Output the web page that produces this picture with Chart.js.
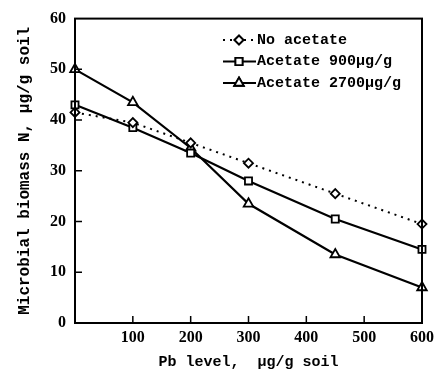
<!DOCTYPE html>
<html>
<head>
<meta charset="utf-8">
<script src="https://cdn.jsdelivr.net/npm/chart.js@4"></script>
<style>
  html, body { margin: 0; padding: 0; background: #fff; }
  #wrap { width: 444px; height: 376px; }
</style>
</head>
<body>
<div id="wrap"><canvas id="biomassChart" width="444" height="376"></canvas></div>
<script>
// values
const pbLevels = [0, 100, 200, 300, 450, 600];
const noAcetate = [41.5, 39.5, 35.5, 31.5, 25.5, 19.5];
const acetate900 = [43, 38.5, 33.5, 28, 20.5, 14.5];
const acetate2700 = [50, 43.5, 34.5, 23.5, 13.5, 7];
const seriesNames = ['No acetate', 'Acetate 900\u03bcg/g', 'Acetate 2700\u03bcg/g'];
const xTicks = [100, 200, 300, 400, 500, 600];
const yTicks = [0, 10, 20, 30, 40, 50, 60];

const toPoints = vals => pbLevels.map((x, i) => ({ x: x, y: vals[i] }));

// frame, inward tick marks and the line+marker legend
const framePlugin = {
    id: 'frame',
    afterDatasetsDraw(chart) {
        const ctx = chart.ctx;
        const a = chart.chartArea;
        const xs = chart.scales.x, ys = chart.scales.y;
        ctx.save();
        ctx.strokeStyle = '#000';
        ctx.lineWidth = 2;
        ctx.strokeRect(a.left, a.top, a.right - a.left, a.bottom - a.top);
        ctx.lineWidth = 1.5;
        ctx.beginPath();
        xTicks.slice(0, -1).forEach(v => {
            const px = xs.getPixelForValue(v);
            ctx.moveTo(px, a.bottom);
            ctx.lineTo(px, a.bottom - 7);
        });
        yTicks.slice(1, -1).forEach(v => {
            const py = ys.getPixelForValue(v);
            ctx.moveTo(a.left, py);
            ctx.lineTo(a.left + 7, py);
        });
        ctx.stroke();

        // legend
        const lx = 223, ly = 40, gap = 21.5;
        ctx.font = 'bold 15px "Liberation Mono"';
        ctx.textBaseline = 'middle';
        ctx.fillStyle = '#000';
        chart.data.datasets.forEach((ds, i) => {
            const y = ly + i * gap;
            ctx.lineWidth = ds.borderWidth;
            ctx.setLineDash(ds.borderDash || []);
            ctx.beginPath();
            ctx.moveTo(lx, y);
            ctx.lineTo(lx + 33, y);
            ctx.stroke();
            ctx.setLineDash([]);
            ctx.lineWidth = 1.8;
            Chart.helpers.drawPoint(ctx, {
                pointStyle: ds.pointStyle,
                radius: ds.pointRadius,
                rotation: 0,
                borderWidth: 1.8
            }, lx + 16, y);
            ctx.fillStyle = '#fff';
            ctx.fill();
            ctx.stroke();
            ctx.fillStyle = '#000';
            ctx.fillText(seriesNames[i], lx + 34, y);
        });
        ctx.restore();
    }
};

const baseSet = {
    borderColor: '#000',
    backgroundColor: '#fff',
    pointBackgroundColor: '#fff',
    pointBorderColor: '#000',
    pointBorderWidth: 1.8,
    tension: 0,
    fill: false,
    clip: false
};

new Chart(document.getElementById('biomassChart').getContext('2d'), {
    type: 'line',
    data: {
        datasets: [
            Object.assign({}, baseSet, {
                label: seriesNames[0],
                data: toPoints(noAcetate),
                borderWidth: 2,
                borderDash: [2, 5],
                pointStyle: 'rectRot',
                pointRadius: 4.5
            }),
            Object.assign({}, baseSet, {
                label: seriesNames[1],
                data: toPoints(acetate900),
                borderWidth: 2.2,
                pointStyle: 'rect',
                pointRadius: 5
            }),
            Object.assign({}, baseSet, {
                label: seriesNames[2],
                data: toPoints(acetate2700),
                borderWidth: 2.2,
                pointStyle: 'triangle',
                pointRadius: 5.5
            })
        ]
    },
    options: {
        responsive: false,
        animation: false,
        layout: { padding: { top: 12, right: 22, left: 0, bottom: 0 } },
        plugins: { legend: { display: false }, tooltip: { enabled: false } },
        scales: {
            x: {
                type: 'linear',
                min: 0,
                max: 600,
                grid: { display: false, drawTicks: false },
                border: { display: false },
                afterBuildTicks: s => { s.ticks = xTicks.map(v => ({ value: v })); },
                afterFit: s => { s.height = 53; },
                ticks: {
                    color: '#000',
                    padding: 5,
                    font: { family: '"Liberation Serif"', size: 16, weight: 'bold' }
                },
                title: {
                    display: true,
                    text: 'Pb level,  \u03bcg/g soil',
                    color: '#000',
                    padding: { top: 4, bottom: 5 },
                    font: { family: '"Liberation Mono"', size: 15, weight: 'bold' }
                }
            },
            y: {
                min: 0,
                max: 60,
                grid: { display: false, drawTicks: false },
                border: { display: false },
                afterBuildTicks: s => { s.ticks = yTicks.map(v => ({ value: v })); },
                afterFit: s => { s.width = 75; },
                ticks: {
                    color: '#000',
                    padding: 9,
                    font: { family: '"Liberation Serif"', size: 16, weight: 'bold' }
                },
                title: {
                    display: true,
                    text: 'Microbial biomass N, \u03bcg/g soil',
                    color: '#000',
                    padding: { top: 15, bottom: 0 },
                    font: { family: '"Liberation Mono"', size: 16, weight: 'bold' }
                }
            }
        }
    },
    plugins: [framePlugin]
});
</script>
</body>
</html>
